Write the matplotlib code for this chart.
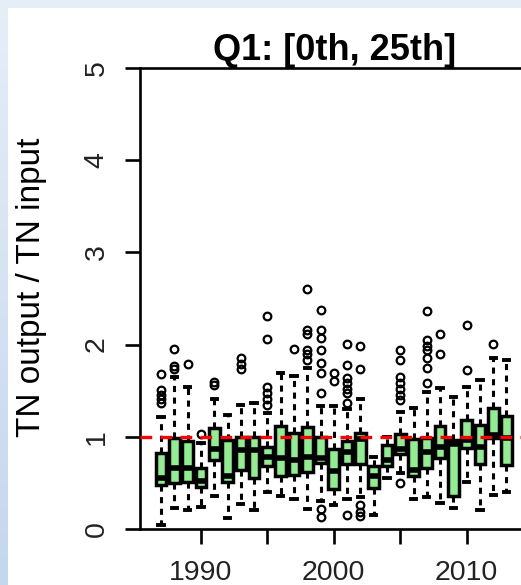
import numpy as np
import matplotlib
matplotlib.use("Agg")
import matplotlib.pyplot as plt
from matplotlib.patches import Rectangle
from matplotlib.colors import LinearSegmentedColormap

plt.rcParams['font.family'] = ['Liberation Sans', 'DejaVu Sans']

# -------------------------------
# Dati (box per anno)
# -------------------------------
years = list(range(1987, 2014))

whis_lo = [0.04, 0.23, 0.21, 0.24, 0.36, 0.12, 0.27, 0.21, 0.40, 0.36, 0.33, 0.22, 0.30, 0.26,
           0.33, 0.35, 0.15, 0.55, 0.61, 0.33, 0.35, 0.28, 0.23, 0.51, 0.21, 0.37, 0.40]
q1 = [0.48, 0.50, 0.51, 0.46, 0.75, 0.51, 0.64, 0.55, 0.68, 0.57, 0.59, 0.62, 0.72, 0.43,
      0.71, 0.71, 0.44, 0.68, 0.81, 0.57, 0.66, 0.77, 0.36, 0.88, 0.71, 0.99, 0.69]
med = [0.55, 0.66, 0.66, 0.52, 0.87, 0.57, 0.86, 0.86, 0.78, 0.77, 0.75, 0.78, 0.77, 0.63,
       0.83, 0.98, 0.57, 0.75, 0.87, 0.64, 0.83, 0.89, 0.92, 0.97, 0.89, 1.02, 0.99]
q3 = [0.82, 0.99, 0.95, 0.66, 1.10, 0.97, 1.00, 1.00, 0.89, 1.12, 1.04, 1.11, 1.00, 0.87,
      0.95, 1.04, 0.68, 0.91, 1.03, 0.98, 0.99, 1.12, 0.97, 1.18, 1.13, 1.31, 1.23]
whis_hi = [1.21, 1.65, 1.54, 0.93, 1.41, 1.24, 1.34, 1.37, 1.26, 1.69, 1.66, 1.75, 1.33, 1.33,
           1.30, 1.41, 0.78, 1.00, 1.27, 1.31, 1.49, 1.53, 1.43, 1.54, 1.62, 1.85, 1.83]

outliers = [
    [1.68, 1.51, 1.45, 1.41, 1.37],                    # 1987
    [1.95, 1.77, 1.74],                                # 1988
    [1.79],                                            # 1989
    [1.03],                                            # 1990
    [1.59, 1.56],                                      # 1991
    [],                                                # 1992
    [1.85, 1.79, 1.73],                                # 1993
    [],                                                # 1994
    [2.31, 2.06, 1.54, 1.47, 1.41, 1.35],              # 1995
    [],                                                # 1996
    [1.95],                                            # 1997
    [2.60, 2.16, 2.11, 1.94, 1.90, 1.83],              # 1998
    [2.38, 2.16, 2.07, 1.94, 1.80, 1.69, 1.47, 0.22, 0.13],  # 1999
    [1.69, 1.60],                                      # 2000
    [2.01, 1.78, 1.64, 1.58, 1.52, 1.47, 1.37, 0.15],  # 2001
    [1.98, 1.74, 0.26, 0.18, 0.14],                    # 2002
    [],                                                # 2003
    [],                                                # 2004
    [1.94, 1.83, 1.65, 1.58, 1.52, 1.45, 1.40, 0.50],  # 2005
    [],                                                # 2006
    [2.36, 2.05, 1.98, 1.94, 1.85, 1.75, 1.58],        # 2007
    [2.11, 1.90],                                      # 2008
    [],                                                # 2009
    [2.21, 1.72],                                      # 2010
    [],                                                # 2011
    [2.01],                                            # 2012
    [],                                                # 2013
]

ytick_vals = [0, 1, 2, 3, 4, 5]
xtick_vals = [1990, 1995, 2000, 2005, 2010]
xtick_labels = ["1990", "", "2000", "", "2010"]

stats = []
for i in range(len(years)):
    stats.append({
        "whislo": whis_lo[i], "q1": q1[i], "med": med[i],
        "q3": q3[i], "whishi": whis_hi[i], "fliers": outliers[i],
    })

# -------------------------------
# Figura e sfondo
# -------------------------------
W, H = 521, 585
fig = plt.figure(figsize=(W / 100, H / 100), dpi=100)

bg = fig.add_axes([0, 0, 1, 1], zorder=-10)
cmap = LinearSegmentedColormap.from_list("bg", ["#c3d7ee", "#e6eef8"])
grad = np.linspace(0, 1, 256).reshape(-1, 1)
bg.imshow(grad, aspect="auto", cmap=cmap, extent=[0, 1, 0, 1], origin="lower")
bg.axis("off")

fig.add_artist(Rectangle((8 / W, 0), 1, 1 - 8 / H, transform=fig.transFigure,
                         facecolor="white", edgecolor="none", zorder=-5))

# -------------------------------
# Boxplot
# -------------------------------
ax = fig.add_axes([140 / W, 56 / H, 390 / W, 461 / H])
ax.set_facecolor("none")

ax.bxp(stats, positions=years, widths=0.8, capwidths=0.4, patch_artist=True,
       manage_ticks=False,
       boxprops=dict(facecolor="#90EE90", edgecolor="black", linewidth=2.5),
       medianprops=dict(color="black", linewidth=4, solid_capstyle="butt"),
       whiskerprops=dict(color="black", linewidth=2.2, linestyle=(0, (2, 1.8))),
       capprops=dict(color="black", linewidth=2.8),
       flierprops=dict(marker="o", markerfacecolor="none", markeredgecolor="black",
                       markersize=5.5, markeredgewidth=1.6))

ax.axhline(1, color="red", linewidth=2.4, linestyle=(0, (3.5, 2.5)), zorder=5)

ax.set_xlim(1985.41, 2014.77)
ax.set_ylim(0, 5)

for s in ["left", "top", "bottom"]:
    ax.spines[s].set_linewidth(1.9)
ax.spines["right"].set_visible(False)

ax.set_yticks(ytick_vals)
ax.set_yticklabels([str(v) for v in ytick_vals], rotation=90, va="center")
ax.set_xticks(xtick_vals)
ax.set_xticklabels(xtick_labels)
ax.tick_params(axis="both", length=11, width=1.9, labelsize=20.5, pad=11, color="black",
               labelcolor="#222222")

ax.set_title("Q1: [0th, 25th]", fontsize=26, fontweight="bold", pad=6)
fig.text(32 / W, 1 - 287.5 / H, "TN output / TN input", rotation=90,
         ha="center", va="center", fontsize=24)

fig.savefig("out.png", dpi=100)
